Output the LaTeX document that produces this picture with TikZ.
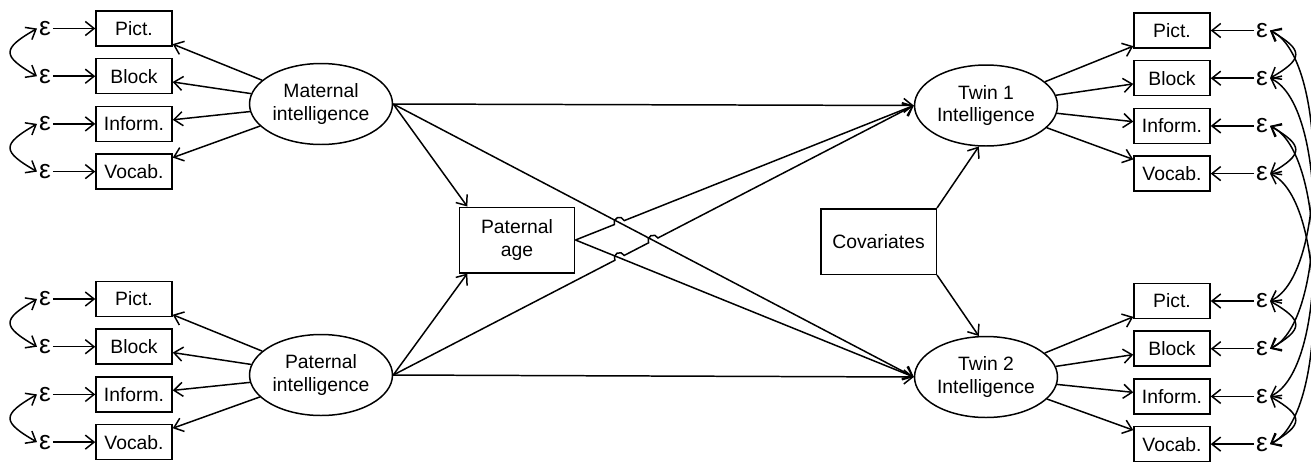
\documentclass[tikz,border=0pt]{standalone}
\usepackage{fontspec}
\setmainfont{Liberation Sans}
\usetikzlibrary{arrows.meta,calc,intersections,shapes.geometric}
\tikzset{>={Straight Barb[length=5pt,width=8pt]}}
\tikzset{
  ind/.style={draw, line width=0.85pt, minimum width=1.52cm, minimum height=0.70cm,
    inner sep=0pt, font=\fontsize{11}{12.8}\selectfont},
  lat/.style={draw, ellipse, line width=0.85pt, minimum width=2.86cm, minimum height=1.62cm,
    inner sep=0pt, align=center, font=\fontsize{11}{12.8}\selectfont},
  bigbox/.style={draw, line width=0.85pt, minimum width=2.31cm, minimum height=1.31cm,
    inner sep=0pt, align=center, font=\fontsize{11}{12.8}\selectfont},
  err/.style={inner sep=1pt, font=\fontsize{15}{15}\selectfont},
  conn/.style={->, line width=0.85pt},
  cor/.style={<->, line width=0.85pt}
}

\begin{document}
\begin{tikzpicture}[x=0.02cm, y=0.02cm]
\useasboundingbox (0,0) rectangle (1311,-461);

% Indikatoren und Fehlerterme
\foreach \lab [count=\i] in {Pict.,Block,Inform.,Vocab.} {
  \pgfmathsetmacro{\yt}{-28.5-47.7*(\i-1)}
  \pgfmathsetmacro{\yb}{-299-47.7*(\i-1)}
  \pgfmathsetmacro{\yr}{-30.5-47.7*(\i-1)}
  \pgfmathsetmacro{\ys}{-301-47.7*(\i-1)}
  \node[ind] (m\i) at (134,\yt) {\lab};
  \node[err] (em\i) at (45,\yt) {ε};
  \node[ind] (p\i) at (134,\yb) {\lab};
  \node[err] (ep\i) at (45,\yb) {ε};
  \node[ind] (a\i) at (1172,\yr) {\lab};
  \node[err] (ea\i) at (1262,\yr) {ε};
  \node[ind] (b\i) at (1172,\ys) {\lab};
  \node[err] (eb\i) at (1262,\ys) {ε};
  \draw[conn] (em\i) -- (m\i);
  \draw[conn] (ep\i) -- (p\i);
  \draw[conn] (ea\i) -- (a\i);
  \draw[conn] (eb\i) -- (b\i);
}

% Latente Variablen
\node[lat] (mat) at (321,-104) {Maternal\\intelligence};
\node[lat] (pat) at (321,-375) {Paternal\\intelligence};
\node[lat] (twa) at (986,-105.5) {Twin 1\\Intelligence};
\node[lat] (twb) at (986,-377) {Twin 2\\Intelligence};
\node[bigbox] (age) at (517,-240) {Paternal\\age};
\node[bigbox] (cov) at (878.5,-241.5) {Covariates};

\foreach \i in {1,...,4} {
  \draw[conn] (mat) -- (m\i);
  \draw[conn] (pat) -- (p\i);
  \draw[conn] (twa) -- (a\i);
  \draw[conn] (twb) -- (b\i);
}

% Korrelierte Fehler
\foreach \i/\j in {1/2,3/4} {
  \draw[cor] (em\i.west) to[out=210,in=150,looseness=2.2] (em\j.west);
  \draw[cor] (ep\i.west) to[out=210,in=150,looseness=2.2] (ep\j.west);
  \draw[cor] (ea\i.east) to[out=-30,in=30,looseness=2.1] (ea\j.east);
  \draw[cor] (eb\i.east) to[out=-30,in=30,looseness=2.1] (eb\j.east);
}
\foreach \i in {1,...,4}
  \draw[cor] (ea\i.east) to[out=-25,in=25,looseness=0.6] (eb\i.east);

% Strukturpfade
\draw[conn] (mat.east) -- (twa.west);
\draw[conn] (pat.east) -- (twb.west);
\draw[conn] (mat.east) -- ([xshift=5pt]age.north west);
\draw[conn] (pat.east) -- ([xshift=5pt]age.south west);
\draw[conn] (mat.east) -- (twb.west);
\draw[conn] (age.east) -- (twb.west);
\draw[conn] (cov.north east) -- (twa.-100);
\draw[conn] (cov.south east) -- (twb.100);

% Kreuzungen mit Bruecken
\path[name path=down1] (mat.east) -- (twb.west);
\path[name path=down2] (age.east) -- (twb.west);
\path[name path=up1] (age.east) -- (twa.west);
\path[name path=up2] (pat.east) -- (twa.west);
\path[name intersections={of=up1 and down1, by=j1}];
\path[name intersections={of=up2 and down2, by=j2}];
\path[name intersections={of=up2 and down1, by=j3}];

\draw[conn] let \p1=($(twa.west)-(age.east)$), \n1={atan2(\y1,\x1)} in
  (age.east) -- ($(j1)!3pt!(age.east)$) arc[start angle=\n1+180, end angle=\n1, radius=3pt]
  -- (twa.west);
\draw[conn] let \p1=($(twa.west)-(pat.east)$), \n1={atan2(\y1,\x1)} in
  (pat.east) -- ($(j2)!3pt!(pat.east)$) arc[start angle=\n1+180, end angle=\n1, radius=3pt]
  -- ($(j3)!3pt!(pat.east)$) arc[start angle=\n1+180, end angle=\n1, radius=3pt]
  -- (twa.west);

\end{tikzpicture}
\end{document}
